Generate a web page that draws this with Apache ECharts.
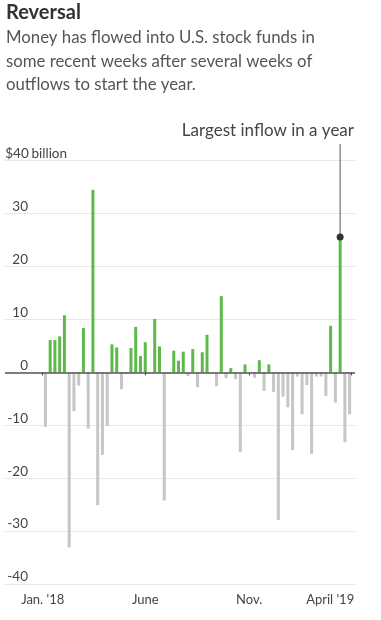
<!DOCTYPE html>
<html>
<head>
<meta charset="utf-8">
<script src="https://cdn.jsdelivr.net/npm/echarts@6/dist/echarts.min.js"></script>
<style>
  html, body { margin: 0; padding: 0; background: #fff; }
  #chart { width: 381px; height: 620px; }
</style>
</head>
<body>
<div id="chart"></div>
<script>
// Weekly fund flows into U.S. stock funds, $ billion
const weeks = [
  '2018-01-05','2018-01-12','2018-01-19','2018-01-26',
  '2018-02-02','2018-02-09','2018-02-16','2018-02-23',
  '2018-03-02','2018-03-09','2018-03-16','2018-03-23','2018-03-30',
  '2018-04-06','2018-04-13','2018-04-20','2018-04-27',
  '2018-05-04','2018-05-11','2018-05-18','2018-05-25',
  '2018-06-01','2018-06-08','2018-06-15','2018-06-22','2018-06-29',
  '2018-07-06','2018-07-13','2018-07-20','2018-07-27',
  '2018-08-03','2018-08-10','2018-08-17','2018-08-24','2018-08-31',
  '2018-09-07','2018-09-14','2018-09-21','2018-09-28',
  '2018-10-05','2018-10-12','2018-10-19','2018-10-26',
  '2018-11-02','2018-11-09','2018-11-16','2018-11-23','2018-11-30',
  '2018-12-07','2018-12-14','2018-12-21','2018-12-28',
  '2019-01-04','2019-01-11','2019-01-18','2019-01-25',
  '2019-02-01','2019-02-08','2019-02-15','2019-02-22',
  '2019-03-01','2019-03-08','2019-03-15','2019-03-22','2019-03-29'
];
const flows = [
  -10.3, 6.1, 6.1, 6.8,
  10.8, -33.1, -7.3, -2.5,
  8.4, -10.6, 34.5, -25.1, -15.6,
  -10.1, 5.3, 4.7, -3.2,
  -0.3, 4.6, 8.6, 3.1,
  5.7, 0, 10.1, 4.9, -24.2,
  -0.3, 4.1, 2.2, 3.9,
  -0.7, 4.4, -2.8, 3.8, 7.1,
  0, -2.6, 14.4, -1.1,
  0.8, -1.3, -15.1, 1.5,
  -0.3, -1.0, 2.3, -3.5, 1.5,
  -3.7, -27.9, -4.6, -6.6,
  -14.7, -0.8, -7.9, -2.4,
  -15.4, -0.8, -0.8, -4.5,
  8.8, -5.7, 25.6, -13.2, -7.9
];
const yTicks = [-40, -30, -20, -10, 0, 10, 20, 30, 40];
const xTickDates = ['2018-01-01', '2018-06-01', '2018-11-01', '2019-04-01'];
const xTickLabels = ["Jan. '18", 'June', 'Nov.', "April '19"];
const highlightIndex = 62;
const annotationText = 'Largest inflow in a year';
const titleText = 'Reversal';
const subtitleText = 'Money has flowed into U.S. stock funds in\nsome recent weeks after several weeks of\noutflows to start the year.';

const FONT = 'Lato, "Noto Sans", sans-serif';
const GREEN = '#5dba4a';
const GRAY = '#c6c6c6';

function toTs(s) {
  const p = s.split('-').map(Number);
  return Date.UTC(p[0], p[1] - 1, p[2]);
}
const DAY = 86400000;
const xTickTs = xTickDates.map(toTs);
const xMin = xTickTs[0] - 55.5 * DAY;
const xMax = xTickTs[3] + 4.9 * DAY;

const chart = echarts.init(document.getElementById('chart'), null, { renderer: 'canvas' });

chart.setOption({
  animation: false,
  backgroundColor: '#fff',
  title: {
    text: titleText,
    subtext: subtitleText,
    left: 6,
    top: 3,
    padding: 0,
    itemGap: 3,
    textStyle: { fontFamily: FONT, fontSize: 20, fontWeight: 'bold', color: '#333' },
    subtextStyle: { fontFamily: FONT, fontSize: 16.8, lineHeight: 23.5, color: '#555' }
  },
  grid: { left: 5, right: 26, top: 160.7, bottom: 36, containLabel: false },
  xAxis: {
    type: 'value',
    min: xMin,
    max: xMax,
    axisLine: { show: false },
    splitLine: { show: false },
    axisTick: {
      show: true,
      length: 3,
      customValues: xTickTs,
      lineStyle: { color: '#333', width: 1 }
    },
    axisLabel: {
      customValues: xTickTs,
      margin: 9,
      fontFamily: FONT,
      fontSize: 13,
      color: '#444',
      hideOverlap: false,
      formatter: function (v) {
        let idx = -1;
        for (let i = 0; i < xTickTs.length; i++) {
          if (Math.abs(xTickTs[i] - v) < DAY / 2) idx = i;
        }
        if (idx < 0) return '';
        if (idx === xTickTs.length - 1) return '{r|' + xTickLabels[idx] + '}';
        return xTickLabels[idx];
      },
      rich: {
        r: { fontFamily: FONT, fontSize: 13, color: '#444', padding: [0, 43, 0, 0] }
      }
    }
  },
  yAxis: {
    type: 'value',
    min: yTicks[0],
    max: yTicks[yTicks.length - 1],
    interval: 10,
    axisLine: { show: false },
    axisTick: { show: false },
    splitLine: { show: true, lineStyle: { color: '#e8e8e8', width: 1 } },
    axisLabel: {
      inside: true,
      margin: 1,
      verticalAlign: 'bottom',
      padding: [0, 0, 0, 0],
      formatter: function (v) {
        if (v === yTicks[yTicks.length - 1]) return '{n|$' + v + '}{u| billion}';
        return '{n|' + v + '}';
      },
      rich: {
        n: { width: 22, align: 'right', fontFamily: FONT, fontSize: 13.5, color: '#444' },
        u: { fontFamily: FONT, fontSize: 13.5, color: '#444' }
      }
    }
  },
  series: [{
    type: 'bar',
    barWidth: 3,
    data: weeks.map((d, i) => ({
      value: [toTs(d), flows[i]],
      itemStyle: { color: flows[i] >= 0 ? GREEN : GRAY }
    })),
    markLine: {
      silent: true,
      symbol: 'none',
      label: { show: false },
      lineStyle: { color: '#555', width: 1.5, type: 'solid' },
      data: [{ yAxis: 0 }]
    }
  }]
});

const p = chart.convertToPixel({ seriesIndex: 0 }, [toTs(weeks[highlightIndex]), flows[highlightIndex]]);
chart.setOption({
  graphic: [
    {
      type: 'line',
      shape: { x1: p[0], y1: p[1], x2: p[0], y2: 144 },
      style: { stroke: '#555', lineWidth: 1 },
      z: 10
    },
    {
      type: 'circle',
      shape: { cx: p[0], cy: p[1], r: 3.5 },
      style: { fill: '#333' },
      z: 11
    },
    {
      type: 'text',
      x: 354,
      y: 131,
      style: {
        text: annotationText,
        align: 'right',
        verticalAlign: 'middle',
        fontFamily: FONT,
        fontSize: 17,
        fill: '#444'
      },
      z: 10
    }
  ]
});
</script>
</body>
</html>
